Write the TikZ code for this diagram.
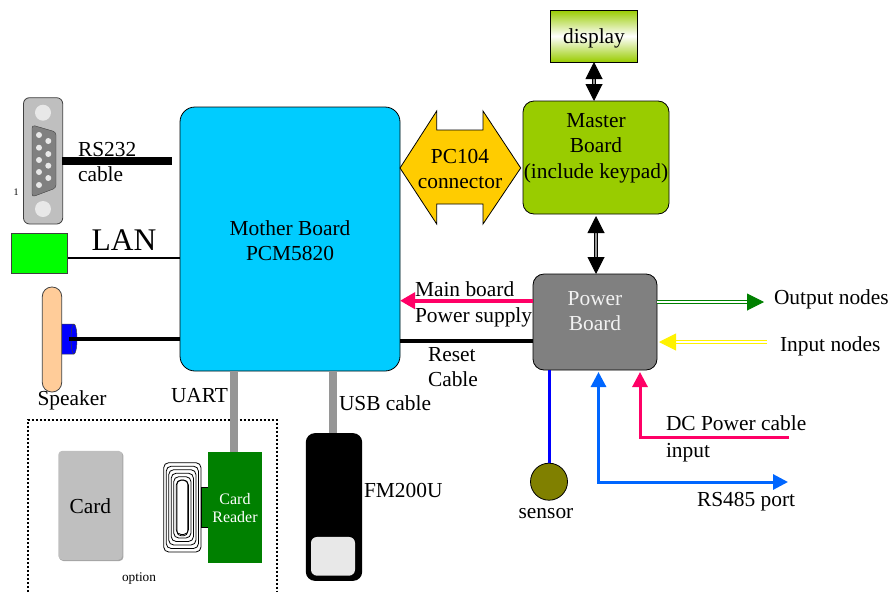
\documentclass[tikz,border=0pt]{standalone}
\usepackage{fontspec}
\setmainfont{Liberation Serif}
\usetikzlibrary{arrows.meta}

\definecolor{mboard}{HTML}{00CCFF}
\definecolor{mgreen}{HTML}{99CC00}
\definecolor{pcamber}{HTML}{FFCC00}
\definecolor{hotpink}{HTML}{FF0066}
\definecolor{portblue}{HTML}{0066FF}
\definecolor{cablegray}{HTML}{969696}
\definecolor{skin}{HTML}{FFCC99}
\definecolor{darkgreen}{HTML}{008000}
\definecolor{olive}{HTML}{808000}
\definecolor{pale}{HTML}{E8E8E8}
\definecolor{edge}{HTML}{404040}

\tikzset{
  every node/.style={inner sep=0pt, outer sep=0pt, align=center,
    font=\fontsize{21.4}{25.5}\selectfont},
  board/.style={draw=black, line width=0.8pt, rounded corners=11pt},
  lbl/.style={anchor=west, align=left},
  bigtip/.style={-{Triangle[width=17pt, length=17pt]}},
  bothtip/.style={{Triangle[width=17pt, length=17pt]}-{Triangle[width=17pt, length=17pt]}},
  smalltip/.style={-{Triangle[width=15pt, length=15pt]}},
  bus/.style={line width=1pt, double=cablegray, double distance=2pt},
}

\begin{document}
\begin{tikzpicture}[x=1pt, y=-1pt]
  \useasboundingbox (0, 0) rectangle (891, 592);

  % main boards
  \node[board, fill=mboard, minimum width=220pt, minimum height=264pt, rounded corners=15pt]
    (mother) at (290, 239) {};
  \node (mothertxt) at (290, 240.5) {Mother Board\\PCM5820};
  \node[board, fill=mgreen, minimum width=146pt, minimum height=113pt]
    (master) at (596, 157.5) {};
  \node (mastertxt) at (596, 148) {Master\\Board\\(include keypad)};
  \node[board, fill=gray, minimum width=124pt, minimum height=96pt]
    (power) at (595, 322) {};
  \node[text=white!90!gray] (powertxt) at (595, 311) {Power\\Board};
  \node[draw=black, line width=0.8pt, minimum width=87.5pt, minimum height=52pt,
    top color=mgreen, bottom color=mgreen, middle color=white]
    (display) at (594, 36) {};
  \node (displaytxt) at (594, 38) {display};

  % PC104 connector
  \draw[fill=pcamber, line width=0.8pt] (400, 168) -- (436.7, 111) -- (436.7, 130) -- (483, 130)
    -- (483, 111) -- (520.7, 168) -- (483, 224) -- (483, 204) -- (436.7, 204) -- (436.7, 224) -- cycle;
  \node (pcconn) at (460, 169) {PC104\\connector};

  \draw[bus, bothtip] (display.south) -- (master.north -| display.south);
  \draw[bus, bothtip] (master.south) ++(0, 2) coordinate (mastertip) -- (power.north -| mastertip);

  % RS232 connector
  \draw[fill=gray!50, draw=edge, line width=0.8pt, rounded corners=6pt] (23.5, 97.7) rectangle (62.7, 224);
  \fill[pale] (43, 112.7) circle[radius=8];
  \fill[pale] (43, 209) circle[radius=8];
  \draw[fill=gray, draw=edge, rounded corners=3pt] (32, 125) -- (56, 132) -- (56, 188) -- (32, 197) -- cycle;
  \foreach \py in {135, 147.7, 160, 172, 185}
    \fill[pale] (39, \py) circle[radius=3];
  \foreach \py in {141, 154, 165.7, 178}
    \fill[pale] (48.3, \py) circle[radius=3];
  \node[font=\fontsize{10}{12}\selectfont] (pinone) at (16, 192) {1};
  \coordinate (rsout) at (62, 161);
  \coordinate (rsend) at (172, 161);
  \draw[line width=8pt] (rsout) -- (rsend);
  \node[lbl] (rslabel) at (78, 162) {RS232\\cable};

  % LAN
  \node[draw=edge, fill=green, line width=0.8pt, minimum width=56.4pt, minimum height=40.4pt]
    (lan) at (39.5, 253.5) {};
  \node[font=\fontsize{31.5}{36}\selectfont] (lanlabel) at (124, 240) {LAN};
  \coordinate (lanout) at (68, 258);
  \draw[line width=2pt] (lanout) -- (mother.west |- lanout);

  % speaker
  \draw[fill=blue, draw=edge, line width=0.5pt] (61.7, 324) -- (74, 324)
    arc[start angle=-90, end angle=90, x radius=3, y radius=15] -- (61.7, 354) -- cycle;
  \draw[edge, line width=0.5pt] (74, 324) arc[start angle=270, end angle=90, x radius=3, y radius=15];
  \node[draw=edge, fill=skin, line width=0.8pt, rounded corners=9.5pt, minimum width=19.4pt, minimum height=105pt]
    (speaker) at (52, 339.5) {};
  \node (speakerlabel) at (72, 400.5) {Speaker};
  \coordinate (spout) at (69, 338.7);
  \draw[line width=4pt] (spout) -- (mother.west |- spout);

  % card reader, option
  \coordinate (optA) at (27.5, 592);
  \coordinate (optB) at (27.5, 420);
  \coordinate (optC) at (277, 420);
  \coordinate (optD) at (277, 592);
  \draw[line width=2pt, dash pattern=on 2pt off 2pt] (optA) -- (optB) -- (optC) -- (optD);
  \fill[gray!70, rounded corners=4pt] (59.3, 451.7) rectangle (123.4, 561);
  \node[fill=gray!50, rounded corners=4pt, minimum width=64pt, minimum height=109pt]
    (card) at (90.3, 505.3) {};
  \node (cardtxt) at (90.3, 506.5) {Card};
  \foreach \d in {0, 2.5, ..., 12.5}
    \draw[line width=0.8pt, rounded corners=5pt] (163.7+\d, 462.7+1.4*\d) rectangle (201-\d, 552-1.4*\d);
  \draw[line width=0.8pt, rounded corners=4pt] (177, 480) rectangle (187.7, 535.7);
  \node[draw=black, fill=darkgreen, line width=0.8pt, minimum width=7pt, minimum height=40pt]
    (reader_tab) at (204.5, 507.3) {};
  \node[fill=darkgreen, minimum width=54pt, minimum height=110.7pt]
    (reader) at (235, 507.3) {};
  \node[text=white, font=\fontsize{16}{18}\selectfont] (readertxt) at (235, 508.5) {Card\\Reader};
  \node[font=\fontsize{13.3}{15}\selectfont] (option) at (139, 579) {option};

  % FM200U
  \node[fill=black, rounded corners=9pt, minimum width=56.3pt, minimum height=147.7pt]
    (fm) at (334, 507) {};
  \node[fill=pale, rounded corners=6pt, minimum width=44pt, minimum height=38.7pt]
    (fmwin) at (333, 556.3) {};
  \node[lbl] (fmlabel) at (364, 490) {FM200U};

  % gray cables
  \draw[line width=8pt, cablegray] (reader.north -| 233.5, 0) -- (mother.south -| 233.5, 0);
  \draw[line width=8pt, cablegray] (fm.north -| 333, 0) -- (mother.south -| 333, 0);
  \node[lbl] (uart) at (171, 396) {UART};
  \node[lbl] (usb) at (339, 403) {USB cable};

  % power board links
  \coordinate (mainin) at (533, 300.7);
  \coordinate (resetin) at (533, 341);
  \draw[line width=4pt, hotpink, -{Triangle[width=16pt, length=15pt]}] (mainin) -- (mother.east |- mainin);
  \draw[line width=4pt] (mother.east |- resetin) -- (resetin);
  \node[lbl] (mainlabel) at (415, 304.5) {Main board\\Power supply};
  \node[lbl] (resetlabel) at (428, 367) {Reset\\Cable};

  \coordinate (outend) at (764, 302);
  \coordinate (inend) at (767, 342);
  \draw[bigtip, darkgreen, line width=1pt, double=white, double distance=1.5pt] (power.east |- outend) -- (outend);
  \draw[bigtip, yellow, line width=1pt, double=white, double distance=1.5pt, shorten >=2pt] (inend) -- (power.east |- inend);
  \node[lbl] (outlabel) at (774, 299) {Output nodes};
  \node[lbl] (inlabel) at (780, 346) {Input nodes};

  \node[draw=black, fill=olive, line width=0.8pt, circle, minimum size=37pt] (sensor) at (549, 481.7) {};
  \draw[line width=3pt, blue] (sensor.north) -- (power.south -| sensor.north);
  \node (sensorlabel) at (546, 514) {sensor};

  \coordinate (rsport) at (788, 482);
  \coordinate (rscorner) at (598.5, 482);
  \coordinate (dcend) at (789, 437);
  \coordinate (dccorner) at (640, 437);
  \draw[line width=3pt, portblue, {Triangle[width=15pt, length=15pt]}-{Triangle[width=15pt, length=15pt]}, shorten <=2pt]
    (power.south -| rscorner) -- (rscorner) -- (rsport);
  \draw[line width=3pt, hotpink, smalltip, shorten >=2pt] (dcend) -- (dccorner) -- (power.south -| dccorner);
  \node[lbl] (dclabel) at (666, 438.5) {DC Power cable\\[1.5pt]input};
  \node[lbl] (rslabelb) at (697, 502) {RS485 port};
\end{tikzpicture}
\end{document}
